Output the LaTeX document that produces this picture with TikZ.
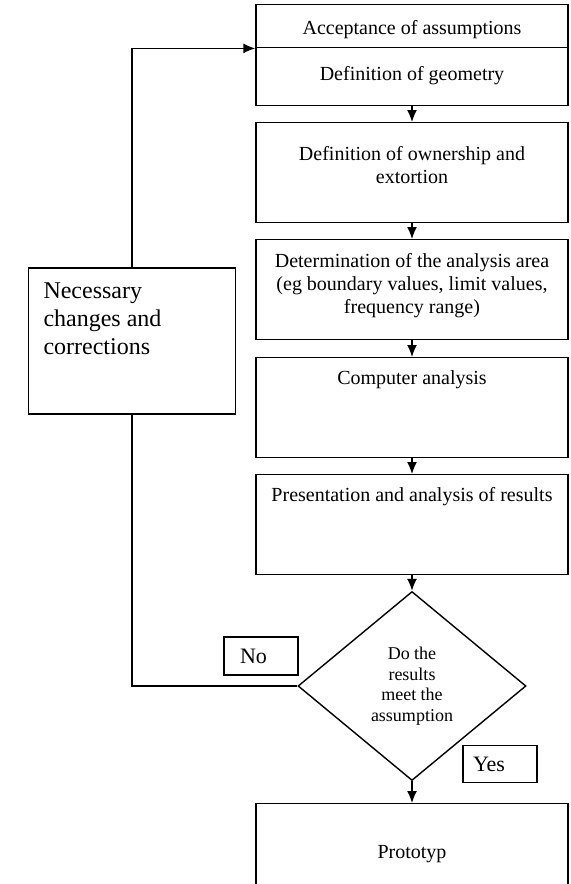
\documentclass[tikz,border=0pt]{standalone}
\usepackage{fontspec}
\setmainfont{Liberation Serif}
\usetikzlibrary{positioning,shapes.geometric,arrows.meta}

\tikzset{
  stagebox/.style={draw, line width=0.7pt, anchor=north, inner xsep=3pt, inner ysep=0pt, minimum width=156pt},
  notebox/.style={draw, line width=0.7pt, inner xsep=7.5pt, inner ysep=0pt},
  answerbox/.style={draw, line width=0.7pt, inner xsep=8pt, inner ysep=0pt, minimum height=19pt,
    text width=21pt, align=left, font=\fontsize{11}{13}\selectfont},
  decision/.style={draw, diamond, line width=0.7pt, aspect=1.2, inner sep=0pt,
    minimum width=114pt, minimum height=94.5pt, align=center, font=\fontsize{9}{10.25}\selectfont},
  flow/.style={line width=0.7pt},
}
% box height, top gap, text
\newcommand{\stagetext}[3]{\parbox[c][#1][t]{150pt}{\centering\fontsize{10}{11.6}\selectfont\vspace*{#2}#3\par}}

\begin{document}
\begin{tikzpicture}[x=0.5pt, y=-0.5pt, >={Latex[length=6pt,width=5pt]}]
\useasboundingbox (0,0) rectangle (570,884);

% Stages
\node[stagebox] (accept) at (412,4) {\stagetext{21.5pt}{7.8pt}{Acceptance of assumptions}};
\node[stagebox] (geom) at (412,47) {\stagetext{29pt}{9.4pt}{Definition of geometry}};
\node[stagebox] (own) at (412,122) {\stagetext{50pt}{11.9pt}{Definition of ownership and\\extortion}};
\node[stagebox] (area) at (412,239) {\stagetext{50pt}{6.9pt}{Determination of the analysis area\\(eg boundary values, limit values,\\frequency range)}};
\node[stagebox] (comp) at (412,357) {\stagetext{50pt}{6.5pt}{Computer analysis}};
\node[stagebox] (res) at (412,474) {\stagetext{50pt}{6.3pt}{Presentation and analysis of results}};

% Decision
\node[decision] (dec) at (412,686) {Do the\\results\\meet the\\assumption};
\node[answerbox] (no) at (261,656) {No};
\node[answerbox, inner xsep=5pt, text width=27pt, minimum height=18.5pt] (yes) at (500,764) {Yes};

% Result
\node[stagebox] (proto) at (412,803) {\stagetext{50pt}{20.7pt}{Prototyp}};

% Corrections
\node[notebox] (changes) at (132,341) {\parbox[c][73pt][t]{88.5pt}{\raggedright\fontsize{12}{14}\selectfont\vspace*{7.5pt}Necessary\\changes and\\corrections\par}};

% Main flow
\foreach \a/\b in {geom/own, own/area, area/comp, comp/res, res/dec, dec/proto} {
  \draw[flow, ->] (\a) -- (\b);
}

% Feedback loop
\draw[flow] (dec.west) -| (changes.south);
\draw[flow, ->] (changes.north) |- (accept.south west);
\end{tikzpicture}
\end{document}
